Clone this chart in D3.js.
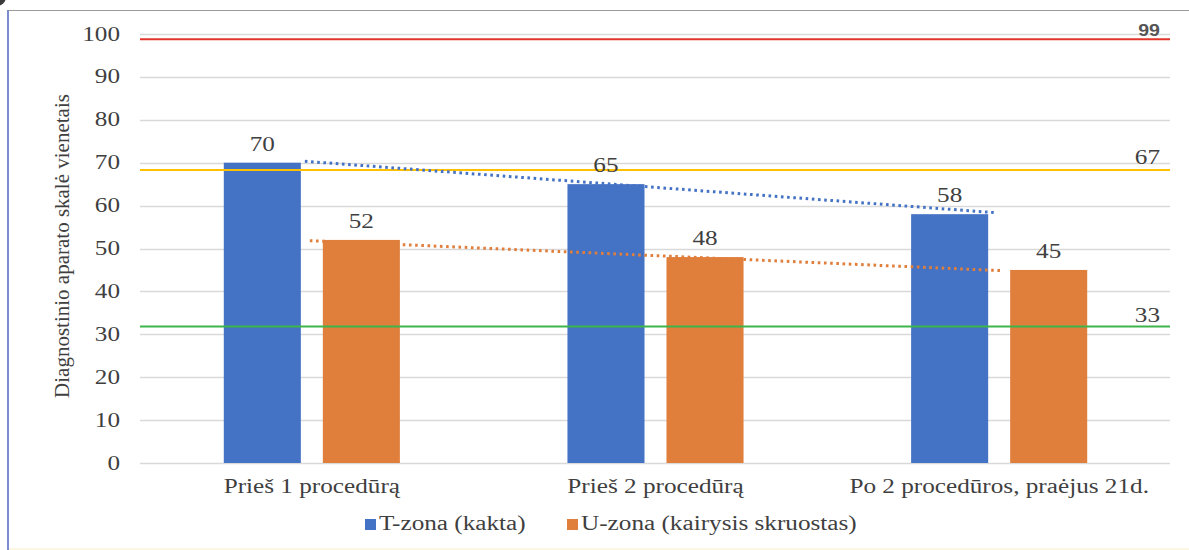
<!DOCTYPE html>
<html>
<head>
<meta charset="utf-8">
<script src="https://cdn.jsdelivr.net/npm/d3@7"></script>
</head>
<body style="margin:0;padding:0;background:#ffffff">
<svg id="chart" width="1189" height="550" style="display:block"></svg>
<script>
// ---- data ----
const categories = ["Prieš 1 procedūrą", "Prieš 2 procedūrą", "Po 2 procedūros, praėjus 21d."];
const seriesNames = ["T-zona (kakta)", "U-zona (kairysis skruostas)"];
const tZona = [70, 65, 58];
const uZona = [52, 48, 45];
const yTicks = [0, 10, 20, 30, 40, 50, 60, 70, 80, 90, 100];
const refPositions = [98.8, 68.3, 31.8];
const refLabels = ["99", "67", "33"];

// ---- style ----
const colors = ["#4472C4", "#E07E3C"];
const refColors = ["#E0352B", "#FFC000", "#3DB54A"];
const textColor = "#3f3f3f";
const SERIF = '"Liberation Serif", serif';
const SANS = '"Liberation Sans", sans-serif';
const sx = 1.26; // horizontal stretch of the original picture

const svg = d3.select("#chart");
const W = 1189, H = 550;
const plot = { left: 140, right: 1171, top: 34, bottom: 463 };

// frame
svg.append("circle").attr("cx", -3).attr("cy", -3).attr("r", 9).attr("fill", "#3a3a3a");
svg.append("line").attr("x1", 8).attr("x2", W).attr("y1", 10.5).attr("y2", 10.5)
  .attr("stroke", "#9a9a9a").attr("stroke-width", 1.2);
svg.append("line").attr("x1", 8).attr("x2", 8).attr("y1", 10).attr("y2", H)
  .attr("stroke", "#7d8ccf").attr("stroke-width", 2);
svg.append("line").attr("x1", 9).attr("x2", W).attr("y1", 549).attr("y2", 549)
  .attr("stroke", "#fbf3d8").attr("stroke-width", 1.5);

const y = d3.scaleLinear().domain([0, 100]).range([plot.bottom, plot.top]);
const x = d3.scaleBand().domain(categories).range([plot.left, plot.right]).paddingInner(0).paddingOuter(0);
const xs = d3.scaleBand().domain(seriesNames).range([0, x.bandwidth()])
  .paddingInner(0.222).paddingOuter(0.846);

function label(g, px, py, str, anchor, size, family, weight, stretch) {
  const t = g.append("text")
    .attr("x", px).attr("y", py)
    .attr("text-anchor", anchor)
    .style("font-family", family || SERIF)
    .style("font-size", size + "px")
    .style("font-weight", weight || "normal")
    .attr("fill", textColor)
    .text(str);
  const w = t.node().getComputedTextLength();
  if (w > 0) t.attr("textLength", w * (stretch || sx)).attr("lengthAdjust", "spacingAndGlyphs");
  return t;
}

// gridlines
const grid = svg.append("g");
grid.selectAll("line").data(yTicks).join("line")
  .attr("x1", plot.left).attr("x2", plot.right - 1)
  .attr("y1", d => Math.round(y(d)) + 0.5).attr("y2", d => Math.round(y(d)) + 0.5)
  .attr("stroke", "#d9d9d9").attr("stroke-width", 1.3);

// y tick labels
const yAxisG = svg.append("g");
yTicks.forEach(t => label(yAxisG, 120, y(t) + 6.5, String(t), "end", 20));

// y title
svg.append("text")
  .attr("transform", "translate(69,246) rotate(-90)")
  .attr("text-anchor", "middle")
  .style("font-family", SERIF)
  .style("font-size", "21px")
  .attr("fill", textColor)
  .text("Diagnostinio aparato skalė vienetais");

// bars
const seriesData = [tZona, uZona];
const barsG = svg.append("g");
seriesData.forEach((vals, si) => {
  barsG.selectAll(null).data(vals).join("rect")
    .attr("x", (d, i) => x(categories[i]) + xs(seriesNames[si]))
    .attr("y", d => y(d))
    .attr("width", xs.bandwidth())
    .attr("height", d => y(0) - y(d))
    .attr("fill", colors[si]);
});

// reference lines
const refG = svg.append("g");
refPositions.forEach((v, i) => {
  refG.append("line")
    .attr("x1", plot.left).attr("x2", plot.right - 1)
    .attr("y1", y(v)).attr("y2", y(v))
    .attr("stroke", refColors[i]).attr("stroke-width", 2);
});
label(refG, 1160, y(refPositions[0]) - 3, refLabels[0], "end", 17, SANS, "bold", 1.15).attr("fill", "#555555");
label(refG, 1160, y(refPositions[1]) - 6, refLabels[1], "end", 20);
label(refG, 1160, y(refPositions[2]) - 5, refLabels[2], "end", 20);

// trendlines (linear least squares on series values)
function linFit(vals) {
  const xsI = vals.map((d, i) => i + 1);
  const mx = d3.mean(xsI), my = d3.mean(vals);
  const b = d3.sum(xsI.map((xi, i) => (xi - mx) * (vals[i] - my))) / d3.sum(xsI.map(xi => (xi - mx) ** 2));
  const a = my - b * mx;
  return k => a + b * k;
}
const trendG = svg.append("g");
seriesData.forEach((vals, si) => {
  const f = linFit(vals);
  const n = vals.length;
  const off = si === 0 ? -5 : 0;
  const x1 = x(categories[0]) + x.bandwidth() / 2 + off - 2;
  const x2 = x(categories[n - 1]) + x.bandwidth() / 2 + off + 2;
  trendG.append("line")
    .attr("x1", x1).attr("y1", y(f(1)))
    .attr("x2", x2).attr("y2", y(f(n)))
    .attr("stroke", colors[si])
    .attr("stroke-width", 3)
    .attr("stroke-dasharray", "2.6,3.6");
});

// data labels
const labG = svg.append("g");
seriesData.forEach((vals, si) => {
  vals.forEach((v, i) => {
    const cx = x(categories[i]) + xs(seriesNames[si]) + xs.bandwidth() / 2;
    label(labG, cx, y(v) - 12, String(v), "middle", 20);
  });
});

// x labels
const xG = svg.append("g");
categories.forEach(c => label(xG, x(c) + x.bandwidth() / 2, 493, c, "middle", 20));

// legend
const legG = svg.append("g");
const legX = [365, 567];
seriesNames.forEach((s, i) => {
  legG.append("rect").attr("x", legX[i]).attr("y", 519).attr("width", 11).attr("height", 11).attr("fill", colors[i]);
  label(legG, legX[i] + 14, 530, s, "start", 20);
});
</script>
</body>
</html>
